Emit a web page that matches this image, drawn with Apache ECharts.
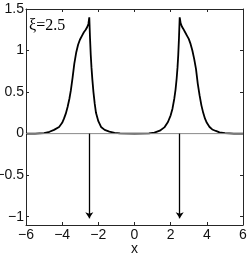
<!DOCTYPE html>
<html><head><meta charset="utf-8">
<script src="https://cdn.jsdelivr.net/npm/echarts@6/dist/echarts.min.js"></script>
<style>html,body{margin:0;padding:0;background:#fff}#c{width:249px;height:255px}</style>
</head><body><div id="c"></div>
<script>
var leftX = [-6, -5.5, -5.0, -4.7, -4.45, -4.17, -4.0, -3.9, -3.8, -3.7, -3.6, -3.52, -3.42, -3.33, -3.22, -3.12, -3.02, -2.9, -2.8, -2.7, -2.62, -2.55, -2.5, -2.46, -2.42, -2.38, -2.33, -2.27, -2.2, -2.13, -2.0, -1.85, -1.65, -1.39, -1.1, -0.8, 0];
var leftY = [0, 0.001, 0.005, 0.022, 0.045, 0.08, 0.13, 0.18, 0.24, 0.32, 0.42, 0.52, 0.68, 0.84, 0.98, 1.07, 1.13, 1.18, 1.22, 1.25, 1.28, 1.32, 1.40, 1.15, 0.95, 0.8, 0.65, 0.5, 0.36, 0.25, 0.15, 0.08, 0.045, 0.025, 0.01, 0.003, 0];
var rightX = [0.8, 1.1, 1.4, 1.65, 1.85, 2.0, 2.1, 2.2, 2.27, 2.33, 2.38, 2.42, 2.46, 2.5, 2.55, 2.62, 2.7, 2.8, 2.9, 3.0, 3.1, 3.2, 3.3, 3.4, 3.5, 3.6, 3.7, 3.8, 3.9, 4.0, 4.15, 4.3, 4.5, 4.7, 5.0, 5.5, 6];
var rightY = [0.003, 0.012, 0.035, 0.075, 0.14, 0.22, 0.3, 0.42, 0.53, 0.66, 0.8, 0.95, 1.15, 1.40, 1.33, 1.29, 1.26, 1.22, 1.18, 1.14, 1.08, 1.0, 0.9, 0.78, 0.6, 0.46, 0.34, 0.25, 0.18, 0.13, 0.08, 0.05, 0.032, 0.015, 0.005, 0.001, 0];
var arrowX = [-2.5, 2.5];
var arrowFrom = 0, arrowTo = -1.02;
var xTicks = [-6, -4, -2, 0, 2, 4, 6];
var yTicks = [-1, -0.5, 0, 0.5, 1, 1.5];
var label = 'ξ=2.5';

var curve = [];
for (var i = 0; i < leftX.length; i++) curve.push([leftX[i], leftY[i]]);
for (var j = 0; j < rightX.length; j++) curve.push([rightX[j], rightY[j]]);

var fmt = function (v) { return String(v).replace('-', '\u2212'); };
var axisCol = '#262626';
var lblStyle = { color: '#111', fontFamily: 'Liberation Sans', fontSize: 14 };

var chart = echarts.init(document.getElementById('c'), null, { renderer: 'canvas' });
chart.setOption({
  animation: false,
  grid: { left: 26, right: 6, top: 9, bottom: 30, outerBoundsMode: 'none', containLabel: false },
  xAxis: [{
    type: 'value', min: -6, max: 6, interval: 2, position: 'bottom',
    axisLine: { onZero: false, lineStyle: { color: axisCol, width: 1 } },
    axisTick: { inside: true, length: 3, lineStyle: { color: axisCol } },
    axisLabel: Object.assign({ margin: 3, formatter: fmt }, lblStyle),
    splitLine: { show: false },
    name: 'x', nameLocation: 'middle', nameGap: 17, nameMoveOverlap: false,
    nameTextStyle: { color: '#111', fontFamily: 'Liberation Sans', fontSize: 14 }
  }, {
    type: 'value', min: -6, max: 6, interval: 2, position: 'top',
    axisLine: { onZero: false, lineStyle: { color: axisCol, width: 1 } },
    axisTick: { inside: true, length: 3, lineStyle: { color: axisCol } },
    axisLabel: { show: false }, splitLine: { show: false }
  }],
  yAxis: [{
    type: 'value', min: -1.1, max: 1.5, position: 'left',
    axisLine: { onZero: false, lineStyle: { color: axisCol, width: 1 } },
    axisTick: { inside: true, length: 3, customValues: yTicks, lineStyle: { color: axisCol } },
    axisLabel: Object.assign({ margin: 2, customValues: yTicks, formatter: fmt }, lblStyle),
    splitLine: { show: false }
  }, {
    type: 'value', min: -1.1, max: 1.5, position: 'right',
    axisLine: { onZero: false, lineStyle: { color: axisCol, width: 1 } },
    axisTick: { inside: true, length: 3, customValues: yTicks, lineStyle: { color: axisCol } },
    axisLabel: { show: false }, splitLine: { show: false }
  }],
  series: [{
    type: 'line', data: curve, showSymbol: false, symbol: 'none',
    lineStyle: { color: '#000', width: 1.8 }, z: 2
  }, {
    type: 'line', data: [[xTicks[0], 0], [xTicks[xTicks.length - 1], 0]], symbol: 'none',
    lineStyle: { color: '#8a8a8a', width: 1 }, z: 3,
    markLine: {
      silent: true, symbol: ['none', 'arrow'], symbolSize: 6,
      label: { show: false },
      lineStyle: { color: '#000', width: 1.3, type: 'solid' },
      data: arrowX.map(function (x) { return [{ coord: [x, arrowFrom] }, { coord: [x, arrowTo] }]; })
    }
  }],
  graphic: [{
    type: 'text', left: 29, top: 18,
    style: { text: label, fill: '#000', font: '16px "Liberation Serif"' }
  }]
});
</script></body></html>
